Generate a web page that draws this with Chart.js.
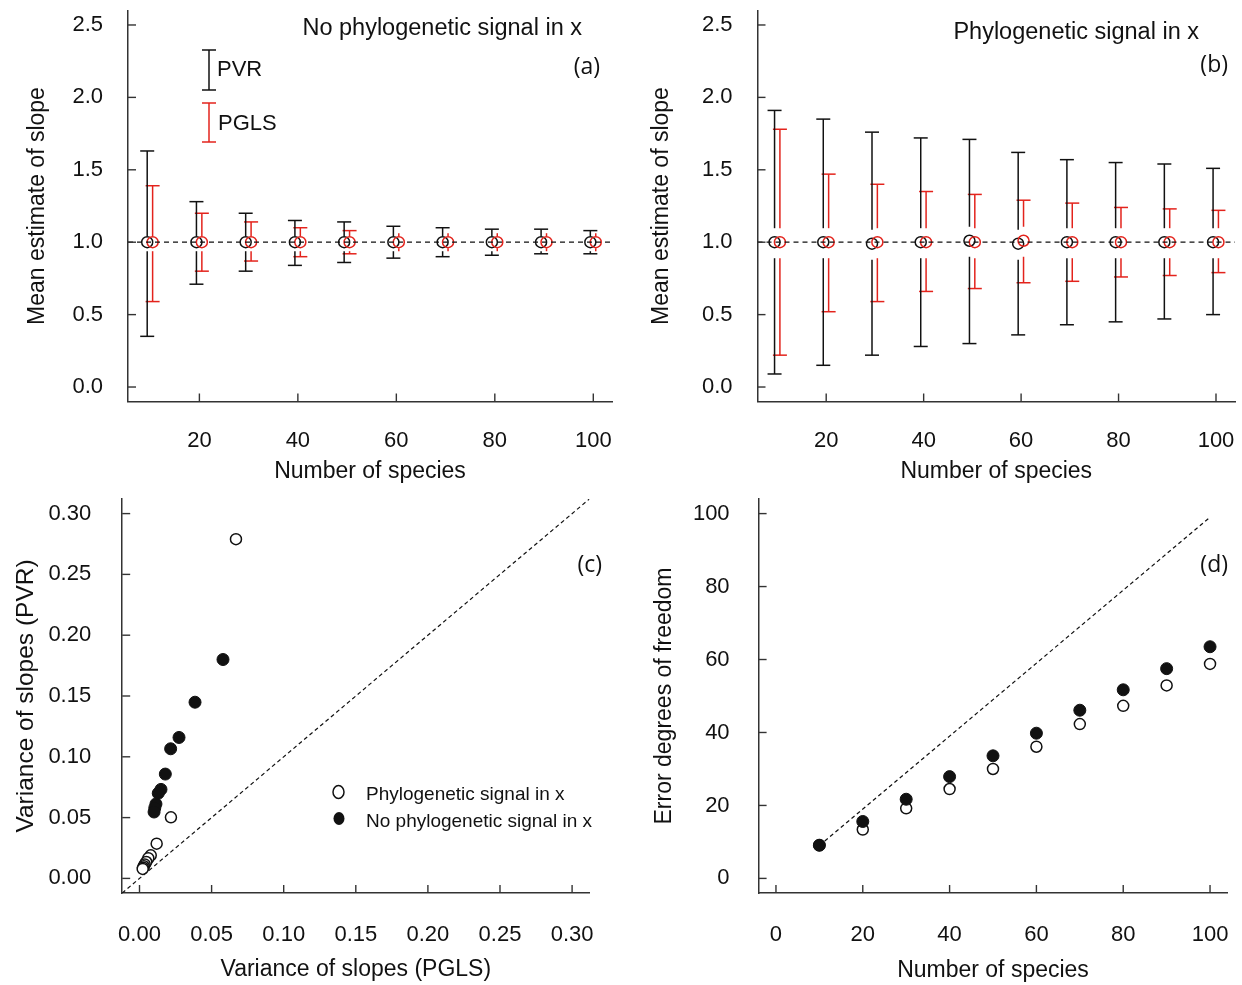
<!DOCTYPE html>
<html>
<head>
<meta charset="utf-8">
<script src="https://cdn.jsdelivr.net/npm/chart.js@4.4.1/dist/chart.umd.min.js"></script>
<style>
  body { margin: 0; background: #fff; }
  #wrap { position: relative; width: 1242px; height: 985px; }
  canvas { position: absolute; }
</style>
</head>
<body>
<div id="wrap">
  <canvas id="pa" width="620" height="492" style="left:0;top:0"></canvas>
  <canvas id="pb" width="622" height="492" style="left:620px;top:0"></canvas>
  <canvas id="pc" width="620" height="493" style="left:0;top:492px"></canvas>
  <canvas id="pd" width="622" height="493" style="left:620px;top:492px"></canvas>
</div>
<script>
// ---- data ----
const species = [10, 20, 30, 40, 50, 60, 70, 80, 90, 100];

// (a) no phylogenetic signal in x
const pvrMeanA = [1.00, 1.00, 1.00, 1.00, 1.00, 1.00, 1.00, 1.00, 1.00, 1.00];
const pvrHiA = [1.63, 1.28, 1.20, 1.15, 1.14, 1.11, 1.10, 1.09, 1.09, 1.08];
const pvrLoA = [0.35, 0.71, 0.80, 0.84, 0.86, 0.89, 0.90, 0.91, 0.92, 0.92];
const pglsMeanA = [1.00, 1.00, 1.00, 1.00, 1.00, 1.00, 1.00, 1.00, 1.00, 1.00];
const pglsHiA = [1.39, 1.20, 1.14, 1.10, 1.08, 1.04, 1.03, 1.03, 1.03, 1.03];
const pglsLoA = [0.59, 0.80, 0.87, 0.90, 0.92, 0.96, 0.97, 0.97, 0.97, 0.97];

// (b) phylogenetic signal in x
const pvrMeanB = [1.00, 1.00, 0.99, 1.00, 1.01, 0.99, 1.00, 1.00, 1.00, 1.00];
const pvrHiB = [1.91, 1.85, 1.76, 1.72, 1.71, 1.62, 1.57, 1.55, 1.54, 1.51];
const pvrLoB = [0.09, 0.15, 0.22, 0.28, 0.30, 0.36, 0.43, 0.45, 0.47, 0.50];
const pglsMeanB = [1.00, 1.00, 1.00, 1.00, 1.00, 1.01, 1.00, 1.00, 1.00, 1.00];
const pglsHiB = [1.78, 1.47, 1.40, 1.35, 1.33, 1.29, 1.27, 1.24, 1.23, 1.22];
const pglsLoB = [0.22, 0.52, 0.59, 0.66, 0.68, 0.72, 0.73, 0.76, 0.77, 0.79];

// (c) variance of slopes, PGLS (x) vs PVR (y)
const varPglsPhylo = [0.0669, 0.0218, 0.0119, 0.0078, 0.0061, 0.0047, 0.0036, 0.0030, 0.0025, 0.0022];
const varPvrPhylo = [0.279, 0.0502, 0.0286, 0.0190, 0.0166, 0.0135, 0.0115, 0.0100, 0.0088, 0.0078];
const varPglsNoPhylo = [0.0579, 0.0385, 0.0274, 0.0216, 0.0179, 0.0149, 0.0130, 0.0114, 0.0106, 0.0101];
const varPvrNoPhylo = [0.180, 0.1449, 0.1159, 0.1066, 0.0858, 0.0732, 0.0700, 0.0612, 0.0580, 0.0546];
const diagLine = [-0.012, 0.312];

// (d) error degrees of freedom
const dfNoPhylo = [9.1, 15.6, 21.7, 27.9, 33.6, 39.8, 46.1, 51.7, 57.5, 63.5];
const dfPhylo = [9.1, 13.4, 19.2, 24.5, 30.0, 36.1, 42.3, 47.3, 52.9, 58.8];
const dfLineX = [10, 100];
const dfLineY = [9, 99];

// ticks
const speciesTicks = [20, 40, 60, 80, 100];
const slopeTicks = [0, 0.5, 1, 1.5, 2, 2.5];
const varTicks = [0, 0.05, 0.1, 0.15, 0.2, 0.25, 0.3];
const dfTicksX = [0, 20, 40, 60, 80, 100];
const dfTicksY = [0, 20, 40, 60, 80, 100];

// ---- style ----
const RED = '#e3231c';
const BLACK = '#111';
const AXIS = '#333';
const SANS = "'Liberation Sans', Arial, Helvetica, sans-serif";
const DODGE_PVR = -0.6, DODGE_PGLS = 0.5;

const pts = (xs, ys) => xs.map((x, i) => ({ x, y: ys[i] }));

function line(ctx, x1, y1, x2, y2) {
  ctx.beginPath(); ctx.moveTo(x1, y1); ctx.lineTo(x2, y2); ctx.stroke();
}

// inward ticks, R style
const inwardTicks = {
  id: 'inwardTicks',
  afterDraw(chart) {
    const { ctx, chartArea: a, scales: { x, y } } = chart;
    ctx.save();
    ctx.strokeStyle = AXIS; ctx.lineWidth = 1.4;
    x.ticks.forEach(t => { const p = x.getPixelForValue(t.value); line(ctx, p, a.bottom, p, a.bottom - 8); });
    y.ticks.forEach(t => { const p = y.getPixelForValue(t.value); line(ctx, a.left, p, a.left + 8, p); });
    ctx.restore();
  }
};

// error bars that stop short of the mean marker
const errorBars = {
  id: 'errorBars',
  afterDatasetsDraw(chart, args, opts) {
    const ctx = chart.ctx, ys = chart.scales.y;
    chart.data.datasets.forEach((ds, i) => {
      if (!ds.errHi) return;
      const meta = chart.getDatasetMeta(i);
      ctx.save();
      ctx.strokeStyle = ds.borderColor; ctx.lineWidth = 1.5;
      meta.data.forEach((pt, j) => {
        const ends = [[ys.getPixelForValue(ds.errHi[j]), -1, opts.gapTop], [ys.getPixelForValue(ds.errLo[j]), 1, opts.gapBottom]];
        ends.forEach(([end, dir, gap]) => {
          const from = pt.y + dir * gap;
          if ((end - from) * dir > 1) {
            line(ctx, pt.x, from, pt.x, end);
            line(ctx, pt.x - opts.cap, end, pt.x + opts.cap, end);
          } else {
            line(ctx, pt.x, pt.y + dir * 6, pt.x, pt.y + dir * 9);
          }
        });
      });
      ctx.restore();
    });
  }
};

// free text and hand-drawn legends
const notes = {
  id: 'notes',
  afterDraw(chart, args, opts) {
    const ctx = chart.ctx;
    ctx.save();
    (opts.texts || []).forEach(t => {
      ctx.font = t.font; ctx.fillStyle = BLACK;
      ctx.textAlign = t.align || 'left'; ctx.textBaseline = 'middle';
      ctx.fillText(t.text, t.x, t.y);
    });
    (opts.bars || []).forEach(b => {
      ctx.strokeStyle = b.color; ctx.lineWidth = 1.5;
      line(ctx, b.x, b.y1, b.x, b.y2);
      line(ctx, b.x - 7, b.y1, b.x + 7, b.y1);
      line(ctx, b.x - 7, b.y2, b.x + 7, b.y2);
    });
    (opts.dots || []).forEach(d => {
      ctx.beginPath(); ctx.ellipse(d.x, d.y, 5.5, 6.5, 0, 0, Math.PI * 2);
      if (d.fill) { ctx.fillStyle = BLACK; ctx.fill(); }
      else { ctx.strokeStyle = BLACK; ctx.lineWidth = 1.5; ctx.stroke(); }
    });
    ctx.restore();
  }
};

function axis(o) {
  return {
    type: 'linear', min: o.min, max: o.max,
    afterBuildTicks: s => { s.ticks = o.ticks.map(v => ({ value: v })); },
    afterFit: s => {
      if (o.width) s.width = o.width;
      if (o.height) s.height = o.height;
      s.paddingTop = s.paddingBottom = s.paddingLeft = s.paddingRight = 0;
    },
    grid: { display: false, drawTicks: false },
    border: { display: true, color: AXIS, width: 1.5 },
    ticks: {
      padding: o.pad, color: BLACK, font: { family: SANS, size: 22 },
      callback: v => o.dec === undefined ? String(v) : Number(v).toFixed(o.dec)
    },
    title: {
      display: true, text: o.title, color: BLACK,
      font: { family: SANS, size: o.titleSize || 23 }, padding: o.titlePad
    }
  };
}

function baseOptions(extra) {
  return {
    responsive: false, animation: false, devicePixelRatio: 1,
    layout: { padding: extra.padding },
    plugins: {
      legend: { display: false }, tooltip: { enabled: false },
      errorBars: extra.errorBars || { gapTop: 0, gapBottom: 0, cap: 7 },
      notes: extra.notes || {}
    },
    scales: extra.scales
  };
}

function slopePanel(id, m, notesOpts, gaps, xr, yWidth, padRight, yTitlePad) {
  new Chart(document.getElementById(id), {
    type: 'scatter',
    data: {
      datasets: [
        { type: 'line', data: pts(xr, [1, 1]), borderColor: BLACK, borderWidth: 1.3, borderDash: [5, 4], pointRadius: 0 },
        { data: pts(species.map(n => n + DODGE_PGLS), m.pglsMean), errHi: m.pglsHi, errLo: m.pglsLo,
          borderColor: RED, backgroundColor: 'rgba(0,0,0,0)', borderWidth: 1.5, pointRadius: 5.5 },
        { data: pts(species.map(n => n + DODGE_PVR), m.pvrMean), errHi: m.pvrHi, errLo: m.pvrLo,
          borderColor: BLACK, backgroundColor: 'rgba(0,0,0,0)', borderWidth: 1.5, pointRadius: 5.5 }
      ]
    },
    options: baseOptions({
      padding: { left: 0, right: padRight, top: 10.5, bottom: 0 },
      errorBars: { gapTop: gaps[0], gapBottom: gaps[1], cap: 7 },
      notes: notesOpts,
      scales: {
        x: axis({ min: xr[0], max: xr[1], ticks: speciesTicks, height: 90.5, pad: 26, title: 'Number of species', titlePad: { top: 0, bottom: 7 } }),
        y: axis({ min: -0.1, max: 2.6, ticks: slopeTicks, dec: 1, width: yWidth, pad: 25, title: 'Mean estimate of slope', titlePad: { top: yTitlePad, bottom: 0 } })
      }
    }),
    plugins: [inwardTicks, errorBars, notes]
  });
}

const LABEL_FONT = "23px 'Open Sans', 'DejaVu Sans', sans-serif";
const TEXT_FONT = '23.5px ' + SANS;

slopePanel('pa',
  { pvrMean: pvrMeanA, pvrHi: pvrHiA, pvrLo: pvrLoA, pglsMean: pglsMeanA, pglsHi: pglsHiA, pglsLo: pglsLoA },
  {
    texts: [
      { text: 'No phylogenetic signal in x', x: 582, y: 29, align: 'right', font: TEXT_FONT },
      { text: '(a)', x: 600, y: 67, align: 'right', font: LABEL_FONT },
      { text: 'PVR', x: 217, y: 70, font: '22px ' + SANS },
      { text: 'PGLS', x: 218, y: 124, font: '22px ' + SANS }
    ],
    bars: [
      { x: 209, y1: 50, y2: 90, color: BLACK },
      { x: 209, y1: 103, y2: 142, color: RED }
    ]
  },
  [6, 9], [5.5, 103.8], 128, 8, 24);

slopePanel('pb',
  { pvrMean: pvrMeanB, pvrHi: pvrHiB, pvrLo: pvrLoB, pglsMean: pglsMeanB, pglsHi: pglsHiB, pglsLo: pglsLoB },
  {
    texts: [
      { text: 'Phylogenetic signal in x', x: 579, y: 33, align: 'right', font: TEXT_FONT },
      { text: '(b)', x: 608, y: 65, align: 'right', font: LABEL_FONT }
    ]
  },
  [14, 16], [5.9, 103.9], 137.5, 5, 28);

// (c)
new Chart(document.getElementById('pc'), {
  type: 'scatter',
  data: {
    datasets: [
      { type: 'line', data: pts(diagLine, diagLine), borderColor: BLACK, borderWidth: 1.2, borderDash: [4, 3], pointRadius: 0 },
      { data: pts(varPglsNoPhylo, varPvrNoPhylo), borderColor: BLACK, backgroundColor: BLACK, borderWidth: 1, pointRadius: 6 },
      { data: pts(varPglsPhylo, varPvrPhylo), borderColor: BLACK, backgroundColor: '#fff', borderWidth: 1.5, pointRadius: 5.5 }
    ]
  },
  options: baseOptions({
    padding: { left: 0, right: 30.6, top: 6.5, bottom: 0 },
    notes: {
      texts: [
        { text: '(c)', x: 602, y: 73, align: 'right', font: LABEL_FONT },
        { text: 'Phylogenetic signal in x', x: 366, y: 303, font: '19px ' + SANS },
        { text: 'No phylogenetic signal in x', x: 366, y: 330, font: '19px ' + SANS }
      ],
      dots: [{ x: 338.5, y: 300, fill: false }, { x: 339, y: 326.5, fill: true }]
    },
    scales: {
      x: axis({ min: -0.012, max: 0.312, ticks: varTicks, dec: 2, height: 92, pad: 29, title: 'Variance of slopes (PGLS)', titlePad: { top: 0, bottom: 2 } }),
      y: axis({ min: -0.012, max: 0.312, ticks: varTicks, dec: 2, width: 122.2, pad: 31, title: 'Variance of slopes (PVR)', titleSize: 24.5, titlePad: { top: 12, bottom: 0 } })
    }
  }),
  plugins: [inwardTicks, notes]
});

// (d)
new Chart(document.getElementById('pd'), {
  type: 'scatter',
  data: {
    datasets: [
      { type: 'line', data: pts(dfLineX, dfLineY), borderColor: BLACK, borderWidth: 1.2, borderDash: [4, 3], pointRadius: 0 },
      { data: pts(species, dfNoPhylo), borderColor: BLACK, backgroundColor: BLACK, borderWidth: 1, pointRadius: 6 },
      { data: pts(species, dfPhylo), borderColor: BLACK, backgroundColor: '#fff', borderWidth: 1.5, pointRadius: 5.5 }
    ]
  },
  options: baseOptions({
    padding: { left: 0, right: 14.6, top: 6.5, bottom: 0 },
    notes: { texts: [{ text: '(d)', x: 608, y: 73, align: 'right', font: LABEL_FONT }] },
    scales: {
      x: axis({ min: -4, max: 104, ticks: dfTicksX, height: 92, pad: 29, title: 'Number of species', titlePad: { top: 0, bottom: 1 } }),
      y: axis({ min: -4, max: 104, ticks: dfTicksY, width: 138.6, pad: 29, title: 'Error degrees of freedom', titlePad: { top: 31, bottom: 0 } })
    }
  }),
  plugins: [inwardTicks, notes]
});
</script>
</body>
</html>
